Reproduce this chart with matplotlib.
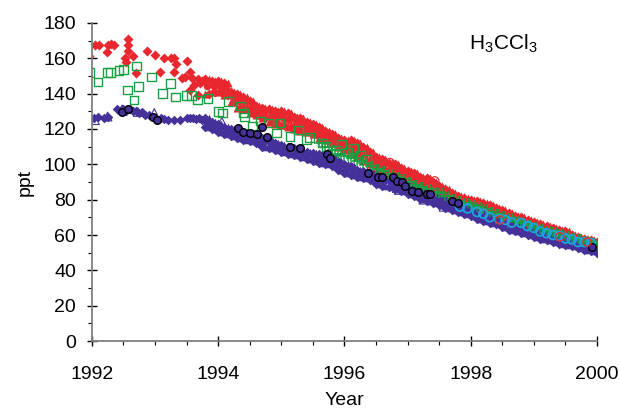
import numpy as np
import matplotlib

matplotlib.use("Agg")
import matplotlib.pyplot as plt
from matplotlib.ticker import MultipleLocator

plt.rcParams["font.family"] = ["Liberation Sans", "DejaVu Sans"]
plt.rcParams["mathtext.fontset"] = "custom"
plt.rcParams["mathtext.rm"] = "Liberation Sans"

# -------- data (ppt) --------
# dense records, sampled every 0.1 yr from 1993.8 to 2000.0
band_years = np.round(np.arange(1993.8, 2000.01, 0.1), 1)
red_hi = [148, 147, 147, 146, 141, 140, 138, 136, 133, 132,
          131, 130, 130, 129, 127, 126, 124, 123, 121, 119,
          117, 115, 114, 114, 112, 110, 107, 104, 103, 101,
          100, 98, 96, 95, 93, 92, 90, 88, 86, 84,
          82, 81, 80, 79, 78, 77, 75, 74, 72.5, 71,
          70, 68.5, 67.5, 66, 65, 64, 63, 62, 60, 59,
          58, 57, 56]
red_lo = [140, 141, 141, 139, 135, 132, 131, 129, 128, 126,
          124, 123, 122, 121, 120, 119, 118, 117, 115, 114,
          112, 110, 108, 106, 104, 102, 100, 98, 97, 96,
          94, 92, 90, 88, 87, 86, 84, 83, 81, 80,
          78, 77, 76, 75, 74, 72, 71, 70, 69, 68,
          66, 65, 64, 63, 62, 61, 60, 59, 58, 57,
          56, 55, 54]
purple_hi = [126, 124, 123, 121, 120, 119, 118, 117, 116, 115,
             114, 112, 111, 110, 109, 108, 107, 106.5, 106, 105,
             104, 102, 100, 99, 97, 96, 95, 94, 93, 92,
             91, 89.5, 88, 87, 85, 84, 82.5, 81, 80, 78,
             77, 76, 74.5, 73, 72, 70.5, 69, 68, 67, 66,
             64.5, 63, 62, 61, 60, 59, 58, 57, 56, 55,
             54, 53, 52]
purple_lo = [121, 120, 118, 117, 116, 115, 114, 113, 112, 110,
             109, 108, 107, 106, 105, 104, 103, 102, 101, 100,
             99, 97, 95, 94, 93, 92, 91, 89, 88, 87,
             86, 85, 83, 82, 80.5, 79, 78, 77, 75.5, 74,
             73, 72, 70.5, 69, 68, 67, 66, 64.5, 63, 62,
             61, 60, 59, 58, 57, 56, 55, 54.5, 53.5, 52.5,
             51.5, 51, 50]

# sparse early records
red_early_years = [1991.95, 1992.05, 1992.12, 1992.24, 1992.25, 1992.3, 1992.35,
                   1992.52, 1992.55, 1992.57, 1992.57, 1992.57, 1992.65, 1992.7,
                   1992.87, 1993.0, 1993.08, 1993.15, 1993.25, 1993.3, 1993.3,
                   1993.33, 1993.43, 1993.48, 1993.5, 1993.55, 1993.55, 1993.58,
                   1993.62, 1993.68, 1993.68, 1993.72, 1993.75]
red_early = [161, 167.5, 167.5, 163.6, 167.5, 168, 167.5,
             160, 158, 171, 167.5, 164, 161, 151.7,
             164, 162, 152, 160, 160, 160, 152,
             157, 149, 149.5, 158.5, 152, 142, 149,
             145, 148, 139, 146, 147]

purple_early_years = [1991.98, 1992.03, 1992.1, 1992.2, 1992.25, 1992.4, 1992.45,
                      1992.5, 1992.55, 1992.6, 1992.65, 1992.7, 1992.75, 1992.8,
                      1992.85, 1992.9, 1993.1, 1993.15, 1993.2, 1993.3, 1993.4,
                      1993.5, 1993.55, 1993.6, 1993.65, 1993.7, 1993.75]
purple_early = [125, 126, 127, 126, 127, 131, 130,
                131, 130, 131, 130, 130, 129, 129.5,
                128, 128, 126, 125.5, 125, 125, 125,
                126, 126, 126, 125.5, 126, 125]

purple_tri_years = [1992.05, 1992.25, 1992.48, 1992.73, 1992.99, 1994.06, 1994.85,
                    1995.6, 1996.0, 1996.37, 1996.83, 1996.86, 1997.25, 1997.57,
                    1997.9]
purple_tri = [125, 127, 131, 129.6, 129, 124, 112,
              104, 98.5, 93, 86.6, 85.5, 80, 76,
              74]

green_sq_years = [1991.97, 1992.1, 1992.25, 1992.3, 1992.43, 1992.5, 1992.57,
                  1992.67, 1992.71, 1992.74, 1992.95, 1993.12, 1993.25, 1993.32,
                  1993.5, 1993.58, 1993.68, 1993.84, 1994.01, 1994.07, 1994.17,
                  1994.35, 1994.4, 1994.42, 1994.55, 1994.67, 1994.8, 1994.93,
                  1994.98, 1995.14, 1995.27, 1995.4, 1995.45, 1995.65, 1995.72,
                  1995.87, 1995.95, 1996.05, 1996.15, 1996.25, 1996.35]
green_sq = [152, 146.6, 151.7, 152, 153, 153.5, 142,
            136.4, 155.6, 143.8, 149.4, 140, 145.5, 138,
            139, 138.7, 136.4, 137, 130, 129, 135.3,
            133, 129, 126.8, 121.7, 124.5, 123.4, 117.7,
            123.4, 115.5, 119.4, 113.8, 115, 112, 110,
            108, 111, 107, 109, 105, 103]

green_plus_years = np.round(np.arange(1995.6, 2000.01, 0.1), 1)
green_plus = [112, 110, 108, 106, 104.5, 103.5, 102, 100.5, 99, 97.5,
              96, 94.5, 93, 91.5, 90, 88.5, 87, 86, 84.5, 83.5,
              82, 80.5, 79, 78, 77, 76, 74.5, 73, 72, 70.5,
              69.5, 68, 67, 65.5, 64.5, 63.5, 62.5, 61.5, 60.5, 59.5,
              58.5, 57.5, 56.5, 55.5, 54.5]

cyan_years = [1997.83, 1997.95, 1998.1, 1998.2, 1998.3, 1998.45, 1998.55,
              1998.65, 1998.8, 1998.9, 1999.0, 1999.1, 1999.2, 1999.3,
              1999.4, 1999.5, 1999.6, 1999.7, 1999.8, 1999.9]
cyan = [76, 75, 73, 72, 70, 69, 68.5,
        67, 66.8, 65, 64, 62, 61, 60,
        59.5, 58, 57.5, 56, 56, 55.5]

black_years = [1992.48, 1992.57, 1992.97, 1993.03, 1994.31, 1994.39, 1994.5,
               1994.61, 1994.69, 1994.77, 1995.14, 1995.3, 1995.72, 1995.77,
               1996.37, 1996.53, 1996.59, 1996.77, 1996.83, 1996.91, 1996.96,
               1997.07, 1997.16, 1997.31, 1997.35, 1997.7, 1997.8, 1999.92]
black = [129.6, 131, 127, 125, 120.5, 118, 117.7,
         117, 121, 115.5, 110, 109, 106, 103.6,
         95, 93, 93, 93, 90.6, 90, 88,
         85, 84.3, 83, 83, 79, 78, 53]

red_open_years = [1996.72, 1997.43, 1998.46, 1999.41, 1999.84]
red_open = [101, 90.6, 68.5, 59, 56]

RED = "#e8282e"
GREEN = "#18a043"
PURPLE = "#46309a"
CYAN = "#1aa6dd"

fig, ax = plt.subplots(figsize=(6.2, 4.08), dpi=100)
fig.subplots_adjust(left=0.148, right=0.963, bottom=0.164, top=0.944)

red_mid = (np.array(red_hi) + np.array(red_lo)) / 2
purple_mid = (np.array(purple_hi) + np.array(purple_lo)) / 2

# red band (northern sites)
ax.scatter(band_years, red_hi, marker="D", s=26, color=RED, lw=0)
ax.scatter(band_years + 0.05, red_hi, marker="^", s=34, color=RED, lw=0)
ax.scatter(band_years, red_lo, marker="^", s=34, color=RED, lw=0)
ax.scatter(band_years + 0.05, red_lo, marker="D", s=26, color=RED, lw=0)
ax.scatter(band_years + 0.03, red_mid, marker="o", s=30, color=RED, lw=0)
ax.scatter(red_early_years, red_early, marker="D", s=26, color=RED, lw=0)

# purple band (southern sites)
ax.scatter(band_years, purple_hi, marker="D", s=24, color=PURPLE, lw=0)
ax.scatter(band_years + 0.05, purple_hi, marker="^", s=30, color=PURPLE, lw=0)
ax.scatter(band_years, purple_lo, marker="D", s=24, color=PURPLE, lw=0)
ax.scatter(band_years + 0.05, purple_lo, marker="^", s=30, color=PURPLE, lw=0)
ax.scatter(band_years + 0.03, purple_mid, marker="o", s=30, color=PURPLE, lw=0)
ax.scatter(purple_early_years, purple_early, marker="D", s=24, color=PURPLE, lw=0)
ax.scatter(purple_tri_years, purple_tri, marker="^", s=40, facecolor="none",
           edgecolor=PURPLE, lw=0.8)

# green (tropical sites)
ax.scatter(green_sq_years, green_sq, marker="s", s=40, facecolor="none",
           edgecolor=GREEN, lw=1.0)
ax.scatter(green_plus_years, green_plus, marker="+", s=50, color=GREEN, lw=1.1)
ax.scatter(green_plus_years + 0.05, green_plus, marker="+", s=50, color=GREEN, lw=1.1)

ax.scatter(cyan_years, cyan, marker="o", s=40, facecolor="none", edgecolor=CYAN, lw=1.3)
ax.scatter(black_years, black, marker="o", s=30, facecolor=PURPLE, edgecolor="black", lw=1.0)
ax.scatter(red_open_years, red_open, marker="o", s=36, facecolor="none",
           edgecolor=RED, lw=0.9)

ax.set_xlim(1992, 2000)
ax.set_ylim(0, 180)
ax.xaxis.set_major_locator(MultipleLocator(2))
ax.xaxis.set_minor_locator(MultipleLocator(0.5))
ax.yaxis.set_major_locator(MultipleLocator(20))
ax.yaxis.set_minor_locator(MultipleLocator(10))
ax.tick_params(which="major", direction="inout", length=6.5, width=1.0,
               labelsize=14)
ax.tick_params(axis="x", which="major", pad=15)
ax.tick_params(axis="y", which="major", pad=8)
ax.tick_params(which="minor", direction="out", length=3, width=0.8)

for side in ("top", "right"):
    ax.spines[side].set_visible(False)
for side in ("left", "bottom"):
    ax.spines[side].set_color("#808080")
    ax.spines[side].set_linewidth(1.3)

ax.set_xlabel("Year", fontsize=14, labelpad=6)
ax.set_ylabel("ppt", fontsize=14, labelpad=7)
ax.text(0.815, 0.935, r"H$_3$CCl$_3$", transform=ax.transAxes, fontsize=15,
        ha="center", va="center")

fig.savefig("out.png", dpi=100)
